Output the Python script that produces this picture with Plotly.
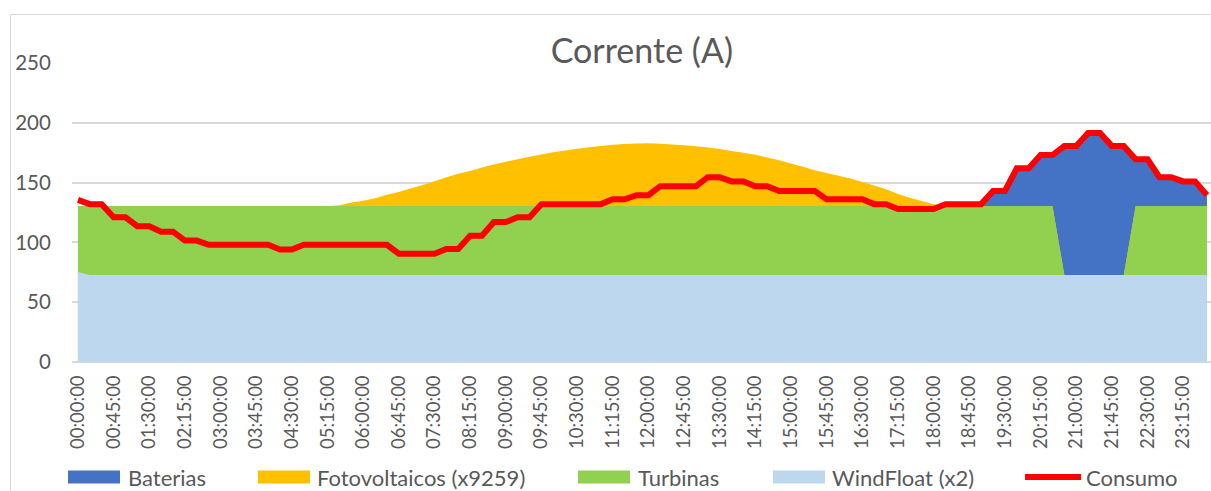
import plotly.graph_objects as go

# 15-minute time slots over one day
times = [f"{h:02d}:{m:02d}:00" for h in range(24) for m in (0, 15, 30, 45)]
tick_labels = times[::3]

# Area levels (A); each area is drawn from zero, later ones on top
baterias = [
    0, 0, 0, 0, 0, 0, 0, 0, 0, 0, 0, 0,
    0, 0, 0, 0, 0, 0, 0, 0, 0, 0, 0, 0,
    0, 0, 0, 0, 0, 0, 0, 0, 0, 0, 0, 0,
    0, 0, 0, 0, 0, 0, 0, 0, 0, 0, 0, 0,
    0, 0, 0, 0, 0, 0, 0, 0, 0, 0, 0, 0,
    0, 0, 0, 0, 0, 0, 0, 0, 0, 0, 0, 0,
    0, 0, 0, 0, 130.4, 143, 143, 162, 162, 173, 173, 180.5,
    180.5, 191.5, 191.5, 180.5, 180.5, 169.5, 169.5, 154.5, 154.5, 151, 151, 139.5,
]
fotovoltaicos = [
    130.4, 130.4, 130.4, 130.4, 130.4, 130.4, 130.4, 130.4, 130.4, 130.4, 130.4, 130.4,
    130.4, 130.4, 130.4, 130.4, 130.4, 130.4, 130.4, 130.4, 130.4, 130.4, 131.0, 133.3,
    134.8, 137.0, 139.8, 142.2, 145.0, 148.0, 151.2, 154.4, 157.3, 159.8, 162.6, 165.2,
    167.5, 169.6, 171.6, 173.5, 175.3, 176.8, 178.2, 179.5, 180.6, 181.6, 182.3, 182.7,
    182.8, 182.5, 181.9, 181.2, 180.3, 179.3, 178.0, 176.5, 175.0, 173.2, 171.0, 168.6,
    166.0, 163.2, 160.4, 158.0, 155.8, 153.4, 150.5, 147.6, 144.5, 140.5, 137.3, 134.6,
    132.0, 130.4, 130.4, 130.4, 130.4, 130.4, 130.4, 130.4, 130.4, 130.4, 130.4, 72.8,
    72.8, 72.8, 72.8, 72.8, 72.8, 130.4, 130.4, 130.4, 130.4, 130.4, 130.4, 130.4,
]
turbinas = [
    130.4, 130.4, 130.4, 130.4, 130.4, 130.4, 130.4, 130.4, 130.4, 130.4, 130.4, 130.4,
    130.4, 130.4, 130.4, 130.4, 130.4, 130.4, 130.4, 130.4, 130.4, 130.4, 130.4, 130.4,
    130.4, 130.4, 130.4, 130.4, 130.4, 130.4, 130.4, 130.4, 130.4, 130.4, 130.4, 130.4,
    130.4, 130.4, 130.4, 130.4, 130.4, 130.4, 130.4, 130.4, 130.4, 130.4, 130.4, 130.4,
    130.4, 130.4, 130.4, 130.4, 130.4, 130.4, 130.4, 130.4, 130.4, 130.4, 130.4, 130.4,
    130.4, 130.4, 130.4, 130.4, 130.4, 130.4, 130.4, 130.4, 130.4, 130.4, 130.4, 130.4,
    130.4, 130.4, 130.4, 130.4, 130.4, 130.4, 130.4, 130.4, 130.4, 130.4, 130.4, 72.8,
    72.8, 72.8, 72.8, 72.8, 72.8, 130.4, 130.4, 130.4, 130.4, 130.4, 130.4, 130.4,
]
windfloat = [
    75.2, 72.8, 72.8, 72.8, 72.8, 72.8, 72.8, 72.8, 72.8, 72.8, 72.8, 72.8,
    72.8, 72.8, 72.8, 72.8, 72.8, 72.8, 72.8, 72.8, 72.8, 72.8, 72.8, 72.8,
    72.8, 72.8, 72.8, 72.8, 72.8, 72.8, 72.8, 72.8, 72.8, 72.8, 72.8, 72.8,
    72.8, 72.8, 72.8, 72.8, 72.8, 72.8, 72.8, 72.8, 72.8, 72.8, 72.8, 72.8,
    72.8, 72.8, 72.8, 72.8, 72.8, 72.8, 72.8, 72.8, 72.8, 72.8, 72.8, 72.8,
    72.8, 72.8, 72.8, 72.8, 72.8, 72.8, 72.8, 72.8, 72.8, 72.8, 72.8, 72.8,
    72.8, 72.8, 72.8, 72.8, 72.8, 72.8, 72.8, 72.8, 72.8, 72.8, 72.8, 72.8,
    72.8, 72.8, 72.8, 72.8, 72.8, 72.8, 72.8, 72.8, 72.8, 72.8, 72.8, 72.8,
]
consumo = [
    135.5, 132, 132, 121, 121, 113.5, 113.5, 109, 109, 101.5, 101.5, 98,
    98, 98, 98, 98, 98, 94, 94, 98, 98, 98, 98, 98,
    98, 98, 98, 90.5, 90.5, 90.5, 90.5, 94.5, 94.5, 105.5, 105.5, 117,
    117, 121, 121, 132, 132, 132, 132, 132, 132, 136, 136, 139.5,
    139.5, 147, 147, 147, 147, 154.5, 154.5, 151, 151, 147, 147, 143,
    143, 143, 143, 136, 136, 136, 136, 132, 132, 128, 128, 128,
    128, 132, 132, 132, 132, 143, 143, 162, 162, 173, 173, 180.5,
    180.5, 191.5, 191.5, 180.5, 180.5, 169.5, 169.5, 154.5, 154.5, 151, 151, 139.5,
]

series_names = ["Baterias", "Fotovoltaicos (x9259)", "Turbinas", "WindFloat (x2)"]
series_colors = ["#4472C4", "#FFC000", "#92D050", "#BDD7EE"]
line_name = "Consumo"
line_color = "#FF0000"

FONT = "Lato"
TEXT = "#595959"
GRID = "#D9D9D9"

W, H = 1211, 491
ML, MR, MT, MB = 72, 0, 63, 129
PW, PH = W - ML - MR, H - MT - MB


def px_x(p):
    return (p - ML) / PW


def px_y(p):
    return (H - MB - p) / PH


fig = go.Figure()
for name, vals, col in zip(series_names, [baterias, fotovoltaicos, turbinas, windfloat], series_colors):
    fig.add_trace(go.Scatter(
        x=times, y=vals, name=name, mode="none",
        fill="tozeroy", fillcolor=col, showlegend=False,
    ))
fig.add_trace(go.Scatter(
    x=times, y=consumo, name=line_name, mode="lines",
    line=dict(color=line_color, width=6), showlegend=False,
))

# Legend row drawn under the axis labels
legend_items = [
    ("rect", 68, 120, 126),
    ("rect", 258, 310, 315),
    ("rect", 578, 630, 636),
    ("rect", 773, 825, 830),
    ("line", 1025, 1081, 1084),
]
leg_y = 477
shapes = []
annotations = []
labels = series_names + [line_name]
colors = series_colors + [line_color]
for (kind, x0, x1, tx), lab, col in zip(legend_items, labels, colors):
    if kind == "rect":
        shapes.append(dict(type="rect", xref="paper", yref="paper",
                           x0=px_x(x0), x1=px_x(x1), y0=px_y(leg_y + 6.5), y1=px_y(leg_y - 6.5),
                           fillcolor=col, line=dict(width=0)))
    else:
        shapes.append(dict(type="line", xref="paper", yref="paper",
                           x0=px_x(x0), x1=px_x(x1), y0=px_y(leg_y), y1=px_y(leg_y),
                           line=dict(color=col, width=6)))
    annotations.append(dict(text=lab, xref="paper", yref="paper", x=px_x(tx), y=px_y(leg_y),
                            xanchor="left", yanchor="middle", showarrow=False,
                            font=dict(family=FONT, size=22, color=TEXT)))

# Chart frame
shapes.append(dict(type="rect", xref="paper", yref="paper", layer="below",
                   x0=px_x(10.5), x1=px_x(W + 20), y0=px_y(14.5), y1=px_y(H + 20),
                   line=dict(color=GRID, width=1), fillcolor="rgba(0,0,0,0)"))

fig.update_layout(
    width=W, height=H,
    margin=dict(l=ML, r=MR, t=MT, b=MB),
    paper_bgcolor="white", plot_bgcolor="white",
    title=dict(text="Corrente (A)", x=0.530, xanchor="center",
               y=1 - 51 / H, yref="container", yanchor="middle",
               font=dict(family=FONT, size=34, color=TEXT)),
    shapes=shapes, annotations=annotations,
    showlegend=False,
)
fig.update_xaxes(
    type="category", range=[-0.5, 95.34],
    tickmode="array", tickvals=tick_labels, ticktext=tick_labels, tickangle=-90,
    ticks="outside", ticklen=5, tickcolor="rgba(0,0,0,0)",
    tickfont=dict(family=FONT, size=18.5, color=TEXT),
    showgrid=False, showline=False, zeroline=False,
)
fig.update_yaxes(
    range=[0, 250], tickvals=[0, 50, 100, 150, 200, 250],
    ticks="outside", ticklen=16, tickcolor="rgba(0,0,0,0)",
    tickfont=dict(family=FONT, size=20.5, color=TEXT),
    showgrid=True, gridcolor=GRID, gridwidth=1.5,
    zeroline=True, zerolinecolor=GRID, zerolinewidth=1.5, showline=False,
)

fig.write_html("out.html")
